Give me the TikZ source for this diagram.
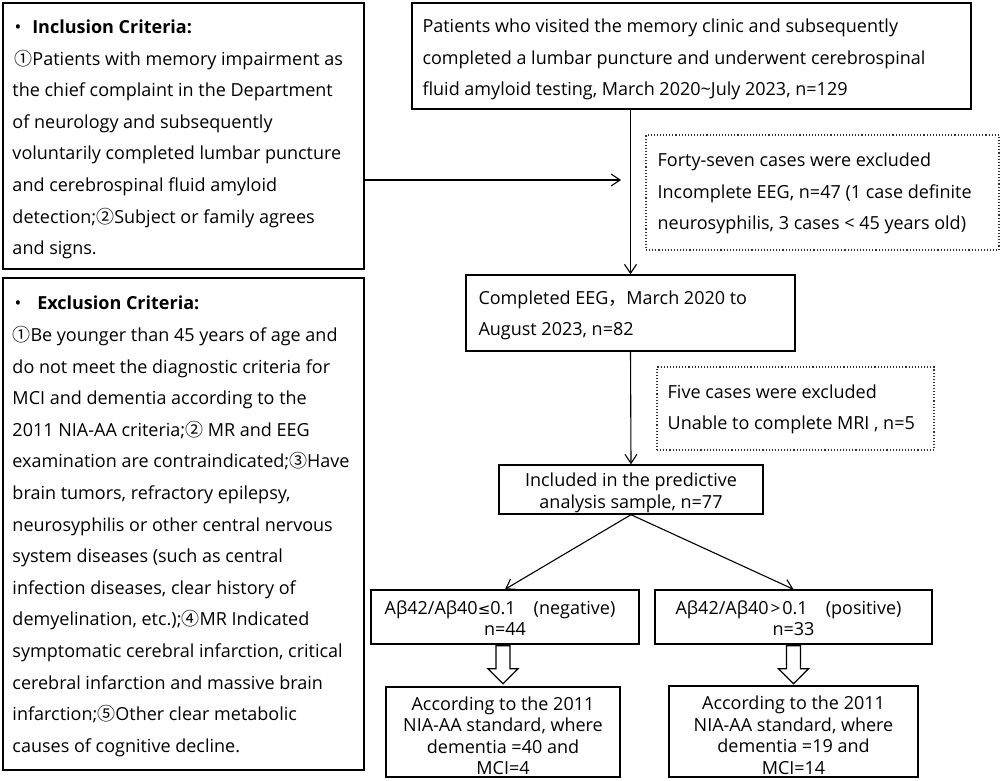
\documentclass[tikz,border=0pt]{standalone}
\usepackage{fontspec}
\setmainfont{Open Sans}
\newfontfamily\cjk{Noto Sans CJK SC}
\newfontfamily\djv{DejaVu Sans}
\usetikzlibrary{arrows.meta}
\newcommand{\cc}[1]{{\cjk #1}}
\begin{document}
\begin{tikzpicture}[x=1pt,y=-1pt,
  box/.style={draw=black, line width=1.4pt, inner sep=0pt},
  dotbox/.style={draw=black!80, line width=1.1pt, dotted, inner sep=0pt},
  txt/.style={inner sep=0pt, align=left, anchor=west, font={\fontsize{18}{31.6}\selectfont}},
  ctxt/.style={inner sep=0pt, align=center, font={\fontsize{18}{21.5}\selectfont}},
  arr/.style={line width=1.1pt, -{Straight Barb[length=9pt,width=12pt]}},
  hollow/.style={line width=1.3pt, draw=black, fill=white, line join=miter}]
\useasboundingbox[fill=white] (0,0) rectangle (1003,781);

% left boxes
\node[box, minimum width=361pt, minimum height=266pt] (inc) at (183.5,136) {};
\node[txt] (inct) at ([xshift=10pt,yshift=-3.5pt]inc.west) {\hspace*{2pt}•\hspace{11pt}\textbf{Inclusion Criteria:}\\
\hspace*{2pt}\cc{①}Patients with memory impairment as\\
the chief complaint in the Department\\
of neurology and subsequently\\
voluntarily completed lumbar puncture\\
and cerebrospinal fluid amyloid\\
detection;\cc{②}Subject or family agrees\\
and signs.};

\node[box, minimum width=361pt, minimum height=492pt] (exc) at (183.5,524) {};
\node[txt] (exct) at ([xshift=10pt,yshift=-2.5pt]exc.west) {\hspace*{2pt}•\hspace{16pt}\textbf{Exclusion Criteria:}\\
\cc{①}Be younger than 45 years of age and\\
do not meet the diagnostic criteria for\\
MCI and dementia according to the\\
2011 NIA-AA criteria;\cc{②} MR and EEG\\
examination are contraindicated;\cc{③}Have\\
brain tumors, refractory epilepsy,\\
neurosyphilis or other central nervous\\
system diseases (such as central\\
infection diseases, clear history of\\
demyelination, etc.);\cc{④}MR Indicated\\
symptomatic cerebral infarction, critical\\
cerebral infarction and massive brain\\
infarction;\cc{⑤}Other clear metabolic\\
causes of cognitive decline.};

% main flow
\node[box, minimum width=559pt, minimum height=106pt] (top) at (691.5,56) {};
\node[txt] (topt) at ([xshift=11pt,yshift=-3.5pt]top.west) {Patients who visited the memory clinic and subsequently\\
completed a lumbar puncture and underwent cerebrospinal\\
fluid amyloid testing, March 2020\textasciitilde July 2023, n=129};

\node[dotbox, minimum width=353pt, minimum height=115pt] (ex1) at (822.5,192.5) {};
\node[txt] (ex1t) at ([xshift=12pt,yshift=-1pt]ex1.west) {Forty-seven cases were excluded\\
Incomplete EEG, n=47 (1 case definite\\
neurosyphilis, 3 cases < 45 years old)};

\node[box, minimum width=329pt, minimum height=76pt] (eeg) at (630.5,313) {};
\node[txt] (eegt) at ([xshift=13pt,yshift=-2.5pt]eeg.west) {Completed EEG\cc{，}March 2020 to\\
August 2023, n=82};

\node[dotbox, minimum width=277pt, minimum height=83pt] (ex2) at (795.5,408.5) {};
\node[txt] (ex2t) at ([xshift=11pt,yshift=-1pt]ex2.west) {Five cases were excluded\\
Unable to complete MRI , n=5};

\node[box, minimum width=264pt, minimum height=49pt] (incl) at (631,489.5) {};
\node[ctxt, font={\fontsize{18}{22}\selectfont}] (inclt) at ([yshift=-3.5pt]incl.center) {Included in the predictive\\ analysis sample, n=77};

\node[box, minimum width=268pt, minimum height=54pt] (neg) at (505,617) {};
\node[ctxt, font={\fontsize{18}{20.5}\selectfont}] (negt) at ([yshift=-1pt]neg.center) {Aβ42/Aβ40{\djv\fontsize{15}{15}\selectfont ≤}0.1\hspace{18pt}(negative)\hspace*{10pt}\\ n=44};
\node[box, minimum width=277pt, minimum height=54pt] (pos) at (793.5,617) {};
\node[ctxt, font={\fontsize{18}{20.5}\selectfont}] (post) at ([yshift=-1pt]pos.center) {Aβ42/Aβ40\hspace{2pt}{\fontsize{17}{17}\selectfont >}\hspace{2pt}0.1\hspace{18pt}(positive)\hspace*{10pt}\\ n=33};

\node[box, minimum width=234pt, minimum height=90pt] (bl) at (503,732) {};
\node[ctxt] (blt) at ([yshift=-3.5pt]bl.center) {According to the 2011\\ NIA-AA standard, where\\ dementia =40 and\\ MCI=4};
\node[box, minimum width=249pt, minimum height=91pt] (br) at (793.5,731.5) {};
\node[ctxt] (brt) at ([yshift=-3.5pt]br.center) {According to the 2011\\ NIA-AA standard, where\\ dementia =19 and\\ MCI=14};

% connectors
\coordinate (ia) at (621,180);
\draw[arr] (inc.east |- ia) -- (ia);
\draw[arr] (eeg.north |- top.south) -- (eeg.north);
\draw[arr] (eeg.south) -- (incl.north);
\draw[arr] (incl.south) -- (neg.north);
\draw[arr] (incl.south) -- (pos.north);

\draw[hollow] (bl.north |- neg.south) ++(-7,1) -- ++(14,0) -- ++(0,23) -- ++(8,0) -- ++(-15,15) -- ++(-15,-15) -- ++(8,0) -- cycle;
\draw[hollow] (br.north |- pos.south) ++(-7,1) -- ++(14,0) -- ++(0,23) -- ++(8,0) -- ++(-15,15) -- ++(-15,-15) -- ++(8,0) -- cycle;
\end{tikzpicture}
\end{document}
